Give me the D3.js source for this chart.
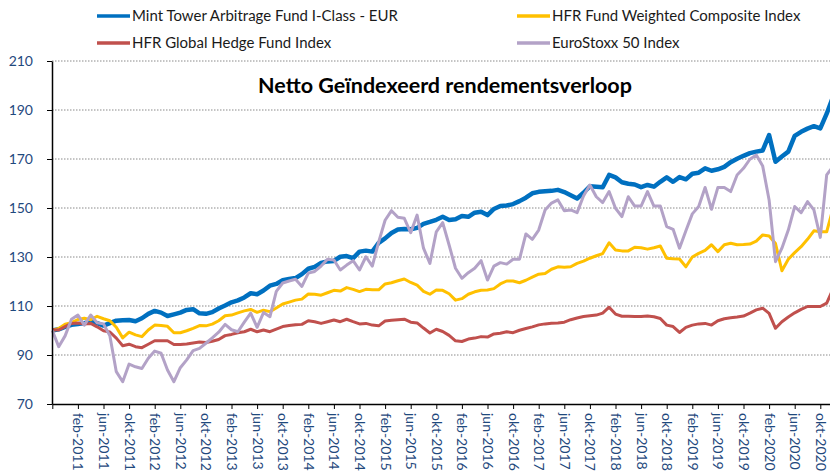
<!DOCTYPE html>
<html>
<head>
<meta charset="utf-8">
<script src="https://cdn.jsdelivr.net/npm/d3@7"></script>
<style>
  body { margin: 0; background: #fff; }
  text { font-family: Lato, "Open Sans", sans-serif; }
</style>
</head>
<body>
<script>
var width = 830;
var height = 474;

// one point per month, okt-2010 .. dec-2020
var tickLabels = [
  "feb-2011","jun-2011","okt-2011","feb-2012","jun-2012","okt-2012",
  "feb-2013","jun-2013","okt-2013","feb-2014","jun-2014","okt-2014",
  "feb-2015","jun-2015","okt-2015","feb-2016","jun-2016","okt-2016",
  "feb-2017","jun-2017","okt-2017","feb-2018","jun-2018","okt-2018",
  "feb-2019","jun-2019","okt-2019","feb-2020","jun-2020","okt-2020"
];
var yTicks = [70, 90, 110, 130, 150, 170, 190, 210];

var mintTower = [
  100,100.5,101.5,102.3,102.6,103,103.6,103,102,103,
  104,104.2,104.3,103.8,105,106.8,108,107.3,105.9,106.6,
  107.3,108.4,108.7,107,106.8,107.5,109,110.2,111.5,112.3,
  113.5,115.2,114.8,116.3,118.3,119,120.5,121,121.4,123,
  125.2,126,127.6,128.2,128.4,130.1,130.4,129.5,132.2,132.6,
  132.2,135.8,137.6,139.8,141.2,141.4,141.3,141.9,143.5,144.3,
  145.2,146.4,145.1,145.4,146.7,146.4,148.1,148.5,147.1,149.6,
  150.8,151,151.6,152.8,154.2,156,156.6,156.8,157,157.4,
  156.5,155.2,153.9,156.2,158.9,158.7,158.5,163.5,162.5,160.5,
  159.9,159.6,158.5,159.4,158.7,160.7,162.5,160.7,162.6,161.7,
  164,164.4,166.2,165.2,165.8,166.8,168.7,170.1,171.3,172.4,
  173,173.5,179.8,168.9,171,173,179.4,181.1,182.4,183.4,
  182.5,188.5,195.5
];

var hfrWeighted = [
  100,100.8,102.6,103.2,104.5,105,104.4,105.8,104.8,104,
  101.3,97,99.3,98.2,97.5,100.2,102.2,102,101.7,99.1,
  99.1,99.9,100.9,102,101.9,102.6,104,106,106.3,107.2,
  108,108.6,107.4,108.3,107.7,109.2,110.8,111.6,112.4,112.8,
  114.9,114.8,114.4,115.4,116.4,116.1,117.5,116.8,115.9,116.8,
  116.6,116.6,119,119.5,120.3,121,119.6,118.5,116,114.8,
  116.5,116.4,115,112.4,113,114.8,115.8,116.4,116.5,117.1,
  119,120.2,120.2,119.5,120.5,121.8,123,123.3,125,126,
  125.8,126,127.4,128.3,129.5,130.5,131.4,135.8,132.9,132.5,
  132.5,134,133.8,133.2,133.8,134.5,129.5,129.3,129.2,126,
  130,131.5,132.7,135,132.2,135,135.6,135,135.1,135.3,
  136.5,139,138.6,135.5,124.4,129.1,131.8,134.2,137.2,140.7,
  140.3,140.3,150
];

var hfrGlobal = [
  100.3,100.2,101.6,102.9,103.1,102.6,102.9,101.5,99.9,99.4,
  96.9,93.8,94.4,93.4,93,94.4,95.8,95.8,95.8,94.3,
  94.3,94.5,94.9,95.3,95.1,95.6,96.3,97.9,98.4,99.1,
  99.5,100.5,99.5,100.2,99.5,100.6,101.6,102,102.3,102.5,
  104,103.6,102.9,103.6,104.3,103.6,104.6,103.6,102.7,102.9,
  102.2,101.9,103.9,104.2,104.4,104.6,103.4,103.1,101,99,
  100.5,99.6,98,95.8,95.5,96.5,96.9,97.5,97.3,98.6,
  98.9,99.5,99.1,100.1,100.8,101.5,102.3,102.7,103,103.1,
  103.4,104.4,105.1,105.7,106,106.3,107.1,109.5,106.7,105.8,
  105.8,105.7,105.7,105.9,105.6,104.9,102.2,101.6,99.2,101.3,
  102.2,102.7,102.9,102.2,104,104.8,105.2,105.5,105.9,107.1,
  108.4,109.1,107,100.9,103.6,105.5,107.2,108.6,109.8,109.8,
  109.8,111.2,117
];

var euroStoxx = [
  100,93.4,97.8,104.6,106.3,102.2,106.3,103.2,102.7,97.8,
  83.2,79.1,86.3,85.2,84.5,88.7,91.6,90.7,83.9,79.1,
  84.8,88,91.8,92.7,94.8,97,99.3,102.5,100.3,99.5,
  103.4,107.1,101.3,107.3,105.6,116,119.4,120.2,120.9,118,
  123.4,124.1,126.3,129.1,128.8,124.7,126.7,128.5,124.7,130.1,
  126.3,136.2,145,148.9,146.2,145.8,139.9,147.1,133.6,127.4,
  140.3,144,134.9,125.4,121.3,123.6,125.4,128.5,120.6,126.3,
  127.7,127.1,129.1,129.1,139.4,137.2,141,149.2,152,153.3,
  148.9,149.2,148.1,154.9,159.4,154.6,152.2,156.7,149.9,146.5,
  154.6,150.8,150.8,156.7,150.8,150.8,142.4,141.3,133.6,140.7,
  147.6,150.6,158.4,149.5,158.4,158.4,156.7,163.5,166.2,169.9,
  171.6,167.1,153.3,128.1,133.6,141,150.6,148.1,152.6,149.2,
  138,163.5,167
];

var seriesNames = [
  "Mint Tower Arbitrage Fund I-Class - EUR",
  "HFR Fund Weighted Composite Index",
  "HFR Global Hedge Fund Index",
  "EuroStoxx 50 Index"
];
var seriesColors = ["#0070C0", "#FFC000", "#C0504D", "#B3A2C7"];
var seriesWidths = [4.5, 3, 3, 3];

var series = [mintTower, hfrWeighted, hfrGlobal, euroStoxx].map(function(v, i) {
  return { name: seriesNames[i], values: v, color: seriesColors[i], w: seriesWidths[i] };
});

var labelColor = "#1F497D";

var svg = d3.select("body").append("svg")
  .attr("width", width)
  .attr("height", height);

var x = d3.scaleLinear().domain([0, mintTower.length - 1]).range([52.3, 833.1]);
var y = d3.scaleLinear().domain([70, 210]).range([404, 61]);

// dotted gridlines
svg.append("g").selectAll("line")
  .data(yTicks.slice(1))
  .enter().append("line")
  .attr("x1", 52).attr("x2", width)
  .attr("y1", function(d) { return y(d); })
  .attr("y2", function(d) { return y(d); })
  .attr("stroke", "#8a8a8a")
  .attr("stroke-width", 1)
  .attr("stroke-dasharray", "1.5,1.5");

// series lines
var line = d3.line()
  .x(function(d, i) { return x(i); })
  .y(function(d) { return y(d); });

svg.append("g").selectAll("path")
  .data(series)
  .enter().append("path")
  .attr("d", function(d) { return line(d.values); })
  .attr("fill", "none")
  .attr("stroke", function(d) { return d.color; })
  .attr("stroke-width", function(d) { return d.w; })
  .attr("stroke-linejoin", "round");

// y axis
var yAxis = svg.append("g")
  .attr("transform", "translate(52,0)")
  .call(d3.axisLeft(y).tickValues(yTicks).tickSize(5).tickSizeOuter(0).tickPadding(14));
yAxis.select(".domain").attr("stroke", "#000").attr("stroke-width", 1.5);
yAxis.selectAll(".tick line").attr("stroke", "#000");
yAxis.selectAll("text")
  .attr("font-size", 14)
  .attr("fill", labelColor)
  .style("font-family", "Lato, sans-serif");

// x axis, a tick every 4 months
var xAxis = svg.append("g")
  .attr("transform", "translate(0,404)")
  .call(d3.axisBottom(x)
    .tickValues(d3.range(0, mintTower.length, 4))
    .tickSize(5).tickSizeOuter(0)
    .tickFormat(function(d, i) { return i === 0 ? "" : tickLabels[i - 1]; }));
xAxis.select(".domain").attr("stroke", "#000").attr("stroke-width", 1.5);
xAxis.selectAll(".tick line").attr("stroke", "#000");
xAxis.selectAll("text")
  .attr("transform", "rotate(90)")
  .attr("text-anchor", "start")
  .attr("x", 9)
  .attr("y", 0)
  .attr("dy", "0.35em")
  .attr("font-size", 14)
  .attr("fill", labelColor)
  .style("font-family", "Lato, sans-serif");

// title
var title = svg.append("text")
  .attr("x", 445)
  .attr("y", 93)
  .attr("text-anchor", "middle")
  .attr("font-weight", "bold")
  .attr("font-size", 20)
  .attr("fill", "#000")
  .text("Netto Geïndexeerd rendementsverloop");
var tw = title.node().getComputedTextLength();
title.attr("font-size", 20 * 374 / tw);

// legend, two columns
var legendPos = [[97, 16], [517, 16], [97, 43], [517, 43]];
var legend = svg.append("g").selectAll("g")
  .data(series)
  .enter().append("g")
  .attr("transform", function(d, i) { return "translate(" + legendPos[i][0] + "," + legendPos[i][1] + ")"; });

legend.append("line")
  .attr("x1", 0).attr("x2", 33)
  .attr("stroke", function(d) { return d.color; })
  .attr("stroke-width", 3.5);

var legendText = legend.append("text")
  .attr("x", 35)
  .attr("dy", "0.35em")
  .attr("font-size", 15)
  .attr("fill", "#1a1a1a")
  .text(function(d) { return d.name; });

var lw = legendText.nodes()[0].getComputedTextLength();
legendText.attr("font-size", 15 * 266 / lw);
</script>
</body>
</html>
